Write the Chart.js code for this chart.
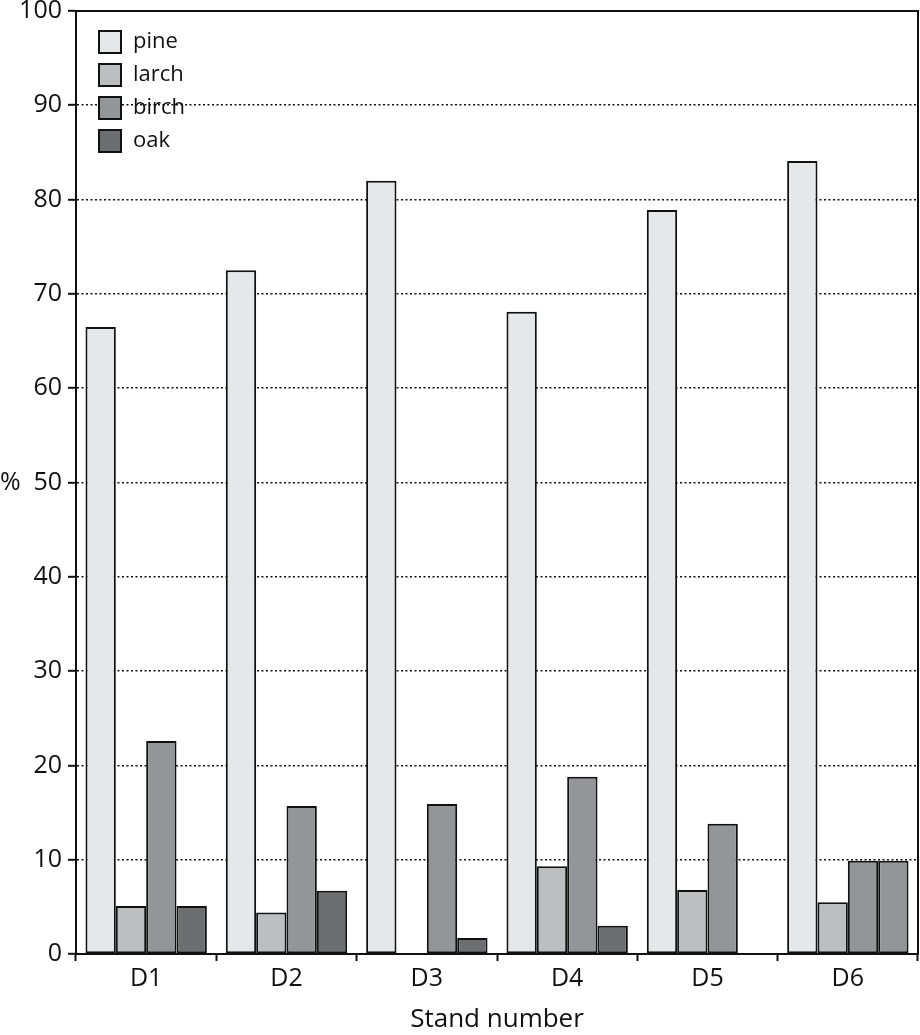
<!DOCTYPE html>
<html><head><meta charset="utf-8">
<script src="https://cdn.jsdelivr.net/npm/chart.js@4/dist/chart.umd.min.js"></script>
<style>html,body{margin:0;padding:0;background:#fff}#wrap{width:920px;height:1035px}</style>
</head><body><div id="wrap"><canvas id="c"></canvas></div>
<script>
const categories = ['D1','D2','D3','D4','D5','D6'];
const pine  = [66.5, 72.5, 82.0, 68.1, 78.9, 84.1];
const larch = [5.1, 4.4, 0, 9.3, 6.8, 5.5];
const birch = [22.6, 15.7, 15.9, 18.8, 13.8, 9.9];
const oak   = [5.1, 6.7, 1.7, 3.0, 0, 9.9];
const seriesNames = ['pine','larch','birch','oak'];
const yTicks = [0,10,20,30,40,50,60,70,80,90,100];
const xTitle = 'Stand number';
const yTitle = '%';

const FONT = "'Open Sans', 'DejaVu Sans', sans-serif";
const colors = ['#e6e7e8','#bcbec0','#939598','#6d6e71'];
const oakColors = oak.map((v,i)=> i===5 ? colors[2] : colors[3]);

const legendPlugin = {
  id:'customLegend',
  afterDraw(chart){
    const ctx = chart.ctx, a = chart.chartArea;
    ctx.save();
    chart.data.datasets.forEach((ds,i)=>{
      const x = a.left + 23, y = a.top + 20 + i*33;
      ctx.fillStyle = colors[i];
      ctx.fillRect(x, y, 22, 22);
      ctx.lineWidth = 2; ctx.strokeStyle = '#111';
      ctx.strokeRect(x, y, 22, 22);
      ctx.fillStyle = '#111';
      ctx.font = "22px " + FONT;
      ctx.textBaseline = 'middle'; ctx.textAlign='left';
      ctx.fillText(ds.label, x + 34, y + 11);
    });
    ctx.strokeStyle = '#111'; ctx.lineWidth = 2;
    ctx.beginPath();
    ctx.moveTo(a.left, a.top); ctx.lineTo(a.right, a.top); ctx.lineTo(a.right, a.bottom);
    ctx.stroke();
    ctx.font = "25px " + FONT;
    ctx.textAlign='left'; ctx.textBaseline='middle';
    ctx.fillText(yTitle, 0, chart.scales.y.getPixelForValue(50));
    ctx.restore();
  }
};

new Chart(document.getElementById('c'), {
  type:'bar',
  data:{
    labels: categories,
    datasets:[
      {label:seriesNames[0], data:pine,  backgroundColor:colors[0]},
      {label:seriesNames[1], data:larch, backgroundColor:colors[1]},
      {label:seriesNames[2], data:birch, backgroundColor:colors[2]},
      {label:seriesNames[3], data:oak,   backgroundColor:oakColors}
    ].map(d=>Object.assign(d,{borderColor:'#111', borderWidth:2, borderSkipped:false, barPercentage:1, categoryPercentage:0.865}))
  },
  options:{
    responsive:true, maintainAspectRatio:false, animation:false,
    layout:{padding:{top:0,right:2,left:0,bottom:0}},
    plugins:{legend:{display:false}, tooltip:{enabled:false}},
    scales:{
      x:{
        offset:true,
        grid:{offset:true, drawOnChartArea:false, drawTicks:true, tickLength:7, tickColor:'#111', tickWidth:2},
        border:{display:true, color:'#111', width:2},
        ticks:{color:'#111', font:{family:FONT, size:25}, padding:3},
        title:{display:true, text:xTitle, color:'#111', font:{family:FONT, size:26}, padding:{top:0,bottom:0}},
        afterFit(s){ s.height = 81; }
      },
      y:{
        min:0, max:100,
        afterBuildTicks(s){ s.ticks = yTicks.map(v=>({value:v})); },
        grid:{
          color:(c)=> (c.tick && (c.tick.value===0 || c.tick.value===100)) ? 'rgba(0,0,0,0)' : '#111',
          lineWidth:1.6,
          tickColor:'#111', tickWidth:2, tickLength:8, tickBorderDash:[]
        },
        border:{display:true, color:'#111', width:2, dash:[2,2.5]},
        ticks:{color:'#111', font:{family:FONT, size:25, lineHeight:0.4}, padding:6},
        afterFit(s){ s.width = 76; }
      }
    }
  },
  plugins:[legendPlugin]
});
</script></body></html>
